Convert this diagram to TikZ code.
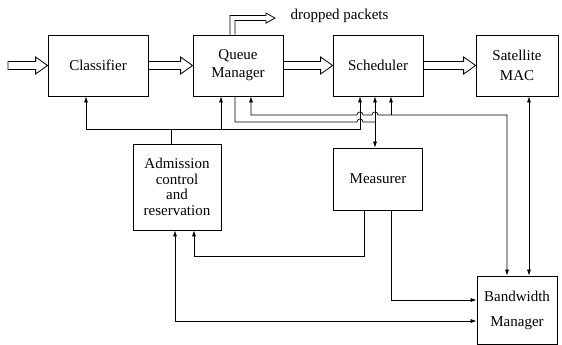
\documentclass[tikz,border=0pt]{standalone}
\usepackage{fontspec}
\setmainfont{Liberation Serif}
\usetikzlibrary{calc,arrows.meta}
\newcommand\blockfont{\fontsize{15}{18}\selectfont}
\tikzset{
  block/.style={rectangle,draw,line width=0.8pt,align=center,font=\blockfont,inner sep=1pt},
  link/.style={line width=0.7pt},
  % packet flow: a hollow arrow, shaft and open head drawn as one outline
  flow/.style={draw,line width=0.8pt,fill=white,to path={
      ($(\tikztostart)+(0,-4)$) -- ($(\tikztotarget)+(-12,-4)$) -- ($(\tikztotarget)+(-12,-8.5)$)
      -- (\tikztotarget) -- ($(\tikztotarget)+(-12,8.5)$) -- ($(\tikztotarget)+(-12,4)$)
      -- ($(\tikztostart)+(0,4)$) -- cycle}},
  lab/.style={font=\blockfont},
}
\begin{document}
\begin{tikzpicture}[x=1pt,y=-1pt,>={Latex[length=6pt,width=4pt]}]
  \useasboundingbox (0,0) rectangle (562,345);
  % blocks (y grows downwards)
  \node[block,minimum width=100,minimum height=61] (cls) at (98,65.5) {Classifier};
  \node[block,minimum width=90,minimum height=61] (qm) at (238,65.5) {Queue\\Manager};
  \node[block,minimum width=90,minimum height=61] (sch) at (378,65.5) {Scheduler};
  \node[block,minimum width=82,minimum height=61] (mac) at (517,65.5) {Satellite\\[2pt]MAC};
  \node[block,minimum width=88,minimum height=86,font={\fontsize{15}{15.5}\selectfont}] (adm) at (177,187) {Admission\\control\\and\\reservation};
  \node[block,minimum width=89,minimum height=62] (meas) at (378,179) {Measurer};
  \node[block,minimum width=80,minimum height=68] (bwm) at (517,310) {Bandwidth\\[7pt]Manager};
  % packet path
  \coordinate (src) at (8,65.5);
  \draw[flow] (src) to (cls.west);
  \draw[flow] (cls.east) to (qm.west);
  \draw[flow] (qm.east) to (sch.west);
  \draw[flow] (sch.east) to (mac.west);
  \draw[line width=0.8pt,fill=white] ([xshift=-8pt]qm.north) -- ++(0,-19) -- ++(36,0) -- ++(0,-2.5)
    -- ++(9,5) -- ++(-9,5) -- ++(0,-2.5) -- ++(-31,0) -- ++(0,14);
  \node[lab,anchor=base west] (drop) at (287,20) {dropped packets};
  % admission control settings
  \draw[link,<->] ([xshift=-12pt]cls.south) |- (360,129) -- ([xshift=-18pt]sch.south);
  \draw[link,->] (221,129) -- ([xshift=-17pt]qm.south);
  \draw[link] ([xshift=-6pt]adm.north) -- (171,129);
  % bandwidth manager to queue manager and scheduler, hopping over two lines
  \draw[link,<->] ([xshift=-10pt]bwm.north) |- (378,115) .. controls (378,111) and (372,111) .. (372,115)
    -- (363,115) .. controls (363,111) and (357,111) .. (357,115) -| ([xshift=13pt]qm.south);
  \draw[link,->] (391,115) -- ([xshift=13pt]sch.south);
  % queue state to the measurer
  \draw[link] ([xshift=-3pt]qm.south) |- (357,122) .. controls (357,118) and (363,118) .. (363,122) -- (375,122);
  \draw[link,<->] ([xshift=-3pt]sch.south) -- ([xshift=-3pt]meas.north);
  % measurements
  \draw[link,->] ([xshift=-14pt]meas.south) |- (194,256) -- ([xshift=17pt]adm.south);
  \draw[link,->] ([xshift=13pt]meas.south) |- ([yshift=10pt]bwm.west);
  \draw[link,<->] ([xshift=-2pt]adm.south) |- ([yshift=-11pt]bwm.west);
  \draw[link,<->] ([xshift=12pt]mac.south) -- ([xshift=12pt]bwm.north);
\end{tikzpicture}
\end{document}
